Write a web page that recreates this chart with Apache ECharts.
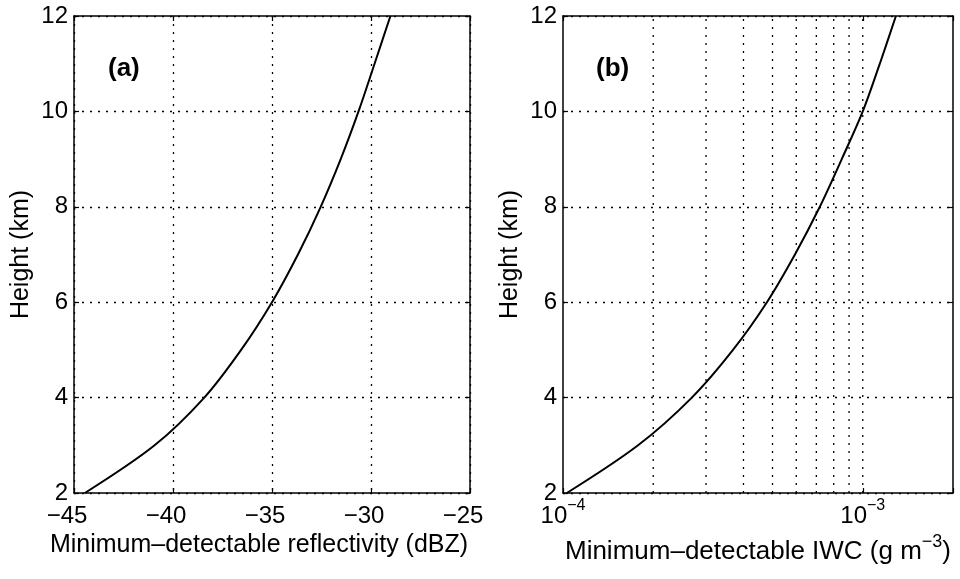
<!DOCTYPE html>
<html>
<head>
<meta charset="utf-8">
<script src="https://cdn.jsdelivr.net/npm/echarts@6.0.0/dist/echarts.min.js"></script>
<style>
  html, body { margin: 0; padding: 0; background: #fff; }
  #chart { width: 960px; height: 579px; }
</style>
</head>
<body>
<div id="chart"></div>
<script>
// Height levels of the profiles (km)
const heights = [2, 3, 4, 5, 6, 7, 8, 9, 10, 11, 12];
// (a) minimum-detectable reflectivity at each height (dBZ)
const reflectivity = [-44.45, -40.93, -38.42, -36.56, -35.0, -33.69, -32.54, -31.53, -30.63, -29.82, -29.02];
// (b) minimum-detectable ice water content at each height (g m^-3)
const iwc = [1.03e-4, 1.78e-4, 2.69e-4, 3.69e-4, 4.79e-4, 5.94e-4, 7.19e-4, 8.51e-4, 1.0e-3, 1.14e-3, 1.29e-3];

// Axis ranges and ticks
const heightRange = [2, 12];
const heightStep = 2;
const dbzRange = [-45, -25];
const dbzStep = 5;
const iwcRange = [1e-4, 2e-3];
// minor decade lines drawn on the log axis of (b)
const iwcGridLines = [2e-4, 3e-4, 4e-4, 5e-4, 6e-4, 7e-4, 8e-4, 9e-4, 1e-3];

const FONT = "'Liberation Sans', Arial, Helvetica, sans-serif";
const INK = '#000';
const dotted = { color: INK, width: 1.3, type: [2, 6] };
const frameLine = { show: true, lineStyle: { color: INK, width: 1.5 } };
const innerTick = { show: true, inside: true, length: 5, lineStyle: { color: INK, width: 1.2 } };

const minusFmt = v => (v < 0 ? '\u2212' + Math.abs(v) : String(v));
const powerFmt = v => {
  const e = Math.log10(v);
  if (Math.abs(e - Math.round(e)) > 1e-6) return '';
  const r = Math.round(e);
  return '{b|10}{s|' + (r < 0 ? '\u2212' + Math.abs(r) : r) + '}';
};

const chart = echarts.init(document.getElementById('chart'), null, { renderer: 'canvas' });

const heightAxisLeft = (gridIndex) => ({
  type: 'value', gridIndex, position: 'left',
  min: heightRange[0], max: heightRange[1], interval: heightStep,
  name: 'Height (km)', nameLocation: 'middle', nameGap: 40,
  nameTextStyle: { color: INK, fontFamily: FONT, fontSize: 25 },
  axisLine: frameLine, axisTick: innerTick,
  axisLabel: { color: INK, fontFamily: FONT, fontSize: 24, margin: 6 },
  splitLine: { show: true, lineStyle: dotted }
});
const heightAxisRight = (gridIndex) => ({
  type: 'value', gridIndex, position: 'right',
  min: heightRange[0], max: heightRange[1], interval: heightStep,
  axisLine: frameLine, axisTick: innerTick,
  axisLabel: { show: false }, splitLine: { show: false }
});

// dotted vertical guides at 2..9 x 10^-4 and 10^-3, spanning the full height range
const iwcGuideSeries = iwcGridLines.map(v => ({
  type: 'line', xAxisIndex: 2, yAxisIndex: 2,
  data: [[v, heightRange[0]], [v, heightRange[1]]],
  symbol: 'none', silent: true, z: 1,
  lineStyle: dotted
}));

const option = {
  animation: false,
  backgroundColor: '#fff',
  title: [
    { text: '(a)', left: 103, top: 51, textStyle: { color: INK, fontFamily: FONT, fontSize: 26, fontWeight: 'bold' } },
    { text: '(b)', left: 591, top: 51, textStyle: { color: INK, fontFamily: FONT, fontSize: 26, fontWeight: 'bold' } }
  ],
  grid: [
    { left: 74, width: 396, top: 16, height: 477 },
    { left: 563, width: 390, top: 16, height: 477 }
  ],
  xAxis: [
    {
      type: 'value', gridIndex: 0, position: 'bottom',
      min: dbzRange[0], max: dbzRange[1], interval: dbzStep,
      name: 'Minimum\u2013detectable reflectivity (dBZ)', nameLocation: 'middle', nameGap: 37,
      nameTextStyle: { color: INK, fontFamily: FONT, fontSize: 25, padding: [0, 26, 0, 0] },
      axisLine: frameLine, axisTick: innerTick,
      axisLabel: { color: INK, fontFamily: FONT, fontSize: 24, margin: 11, padding: [0, 14, 0, 0], formatter: minusFmt },
      splitLine: { show: true, lineStyle: dotted }
    },
    {
      type: 'value', gridIndex: 0, position: 'top',
      min: dbzRange[0], max: dbzRange[1], interval: dbzStep,
      axisLine: frameLine, axisTick: innerTick,
      axisLabel: { show: false }, splitLine: { show: false }
    },
    {
      type: 'log', logBase: 10, gridIndex: 1, position: 'bottom',
      min: iwcRange[0], max: iwcRange[1],
      name: '{t|Minimum\u2013detectable IWC (g m}{s|\u22123}{t|)}', nameLocation: 'middle', nameGap: 46,
      nameTextStyle: {
        color: INK, fontFamily: FONT, fontSize: 26,
        rich: {
          t: { color: INK, fontFamily: FONT, fontSize: 26, lineHeight: 26, verticalAlign: 'bottom' },
          s: { color: INK, fontFamily: FONT, fontSize: 18, lineHeight: 18, padding: [0, 0, 14, 0], verticalAlign: 'bottom' }
        }
      },
      axisLine: frameLine, axisTick: innerTick,
      axisLabel: {
        color: INK, fontFamily: FONT, fontSize: 24, margin: 11, formatter: powerFmt,
        rich: {
          b: { color: INK, fontFamily: FONT, fontSize: 24, lineHeight: 24, verticalAlign: 'bottom' },
          s: { color: INK, fontFamily: FONT, fontSize: 16, lineHeight: 16, padding: [0, 0, 14, 0], verticalAlign: 'bottom' }
        }
      },
      splitLine: { show: false }
    },
    {
      type: 'log', logBase: 10, gridIndex: 1, position: 'top',
      min: iwcRange[0], max: iwcRange[1],
      axisLine: frameLine, axisTick: innerTick,
      axisLabel: { show: false }, splitLine: { show: false }
    }
  ],
  yAxis: [
    heightAxisLeft(0),
    heightAxisRight(0),
    heightAxisLeft(1),
    heightAxisRight(1)
  ],
  series: [
    {
      type: 'line', xAxisIndex: 0, yAxisIndex: 0,
      data: heights.map((h, i) => [reflectivity[i], h]),
      symbol: 'none', smooth: 0.33, silent: true, z: 3,
      lineStyle: { color: INK, width: 2 }
    },
    {
      type: 'line', xAxisIndex: 2, yAxisIndex: 2,
      data: heights.map((h, i) => [iwc[i], h]),
      symbol: 'none', smooth: 0.33, silent: true, z: 3,
      lineStyle: { color: INK, width: 2 }
    }
  ].concat(iwcGuideSeries)
};

chart.setOption(option);
</script>
</body>
</html>
